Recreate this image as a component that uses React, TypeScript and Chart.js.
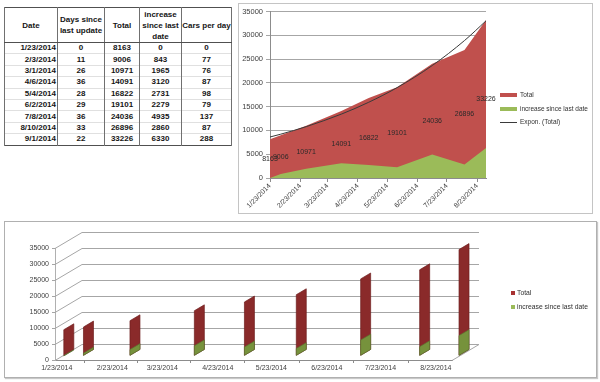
import React, { useEffect, useRef } from 'react';
import { Chart, registerables } from 'chart.js';

Chart.register(...registerables);

// ---------- data ----------
const dates = ['1/23/2014', '2/3/2014', '3/1/2014', '4/6/2014', '5/4/2014', '6/2/2014', '7/8/2014', '8/10/2014', '9/1/2014'];
const daysSinceLast = [0, 11, 26, 36, 28, 29, 36, 33, 22];
const totals = [8163, 9006, 10971, 14091, 16822, 19101, 24036, 26896, 33226];
const increases = [0, 843, 1965, 3120, 2731, 2279, 4935, 2860, 6330];
const carsPerDay = [0, 77, 76, 87, 98, 79, 137, 87, 288];
const tickLabels = ['1/23/2014', '2/23/2014', '3/23/2014', '4/23/2014', '5/23/2014', '6/23/2014', '7/23/2014', '8/23/2014'];
const tickDays = [0, 31, 59, 90, 120, 151, 181, 212];

const seriesTotal = 'Total';
const seriesIncrease = 'increase since last date';
const seriesTrend = 'Expon. (Total)';

// day offsets from first date (cumulative days since last update)
const dayOffsets: number[] = [];
daysSinceLast.reduce((acc, d) => {
  const v = acc + d;
  dayOffsets.push(v);
  return v;
}, 0);

// exponential least-squares fit of Total (Excel "Expon." trendline)
const fit = (() => {
  const n = totals.length;
  const lx = dayOffsets;
  const ly = totals.map((v) => Math.log(v));
  const mx = lx.reduce((a, b) => a + b, 0) / n;
  const my = ly.reduce((a, b) => a + b, 0) / n;
  let sxy = 0;
  let sxx = 0;
  for (let i = 0; i < n; i++) {
    sxy += (lx[i] - mx) * (ly[i] - my);
    sxx += (lx[i] - mx) * (lx[i] - mx);
  }
  const b = sxy / sxx;
  const a = my - b * mx;
  return { A: Math.exp(a), B: b };
})();
const trendValues = dayOffsets.map((x) => fit.A * Math.exp(fit.B * x));

const FONT = '"Liberation Sans", Arial, sans-serif';
const RED = '#C0504D';
const GREEN = '#9BBB59';
const plainNumber = (v: any) => String(v);

// ---------- top area chart ----------
const areaLabels = {
  id: 'areaLabels',
  afterDatasetsDraw(chart: any) {
    const { ctx, scales } = chart;
    ctx.save();
    ctx.font = `7px ${FONT}`;
    ctx.fillStyle = '#2a2a2a';
    ctx.textAlign = 'center';
    ctx.textBaseline = 'middle';
    totals.forEach((v, i) => {
      ctx.fillText(String(v), scales.x.getPixelForValue(dayOffsets[i]), scales.y.getPixelForValue(v / 2));
    });
    ctx.restore();
  },
};

function AreaChart() {
  const ref = useRef<HTMLCanvasElement>(null);
  useEffect(() => {
    if (!ref.current) return;
    const chart = new Chart(ref.current, {
      type: 'line',
      data: {
        datasets: [
          {
            label: seriesTotal,
            data: dayOffsets.map((x, i) => ({ x, y: totals[i] })),
            fill: 'origin',
            backgroundColor: RED,
            borderColor: RED,
            borderWidth: 0,
            pointRadius: 0,
            order: 3,
          },
          {
            label: seriesIncrease,
            data: dayOffsets.map((x, i) => ({ x, y: increases[i] })),
            fill: 'origin',
            backgroundColor: GREEN,
            borderColor: GREEN,
            borderWidth: 0,
            pointRadius: 0,
            order: 2,
          },
          {
            label: seriesTrend,
            data: dayOffsets.map((x, i) => ({ x, y: trendValues[i] })),
            fill: false,
            borderColor: '#3a3a3a',
            borderWidth: 1,
            pointRadius: 0,
            cubicInterpolationMode: 'monotone',
            order: 1,
          },
        ],
      } as any,
      options: {
        animation: false,
        responsive: false,
        events: [],
        layout: { padding: { top: 6, right: 106, left: 0, bottom: 0 } },
        plugins: { legend: { display: false }, tooltip: { enabled: false } },
        scales: {
          x: {
            type: 'linear',
            min: 0,
            max: 221,
            afterBuildTicks: (s: any) => {
              s.ticks = tickDays.map((v) => ({ value: v }));
            },
            afterFit: (s: any) => {
              s.height = 35;
            },
            ticks: {
              autoSkip: false,
              minRotation: 45,
              maxRotation: 45,
              padding: 0,
              color: '#404040',
              font: { family: FONT, size: 7 },
              callback: (_v: any, i: number) => tickLabels[i],
            },
            grid: { drawOnChartArea: false, tickLength: 4, color: '#8c8c8c' },
            border: { color: '#8c8c8c' },
          },
          y: {
            min: 0,
            max: 35000,
            afterFit: (s: any) => {
              s.width = 31;
            },
            ticks: {
              stepSize: 5000,
              padding: 3,
              color: '#404040',
              font: { family: FONT, size: 7.5 },
              callback: plainNumber,
            },
            grid: { color: '#a6a6a6', tickLength: 4 },
            border: { color: '#8c8c8c' },
          },
        },
      } as any,
      plugins: [areaLabels],
    });
    return () => chart.destroy();
  }, []);
  return <canvas ref={ref} width={353} height={209} style={{ display: 'block' }} />;
}

// ---------- bottom pseudo-3D column chart ----------
const DX = 27;
const DY = 16;
const T1 = 0.26;
const T2 = 0.63;

const wall3d = {
  id: 'wall3d',
  beforeDatasetsDraw(chart: any) {
    const { ctx, chartArea: a, scales } = chart;
    const ys = scales.y;
    ctx.save();
    ctx.strokeStyle = '#a6a6a6';
    ctx.lineWidth = 1;
    ys.ticks.forEach((t: any) => {
      const yf = Math.round(ys.getPixelForValue(t.value)) + 0.5;
      ctx.beginPath();
      ctx.moveTo(a.left, yf);
      ctx.lineTo(a.left + DX, yf - DY);
      ctx.lineTo(a.right + DX, yf - DY);
      ctx.stroke();
    });
    const y0 = Math.round(ys.getPixelForValue(0)) + 0.5;
    ctx.beginPath();
    ctx.moveTo(a.right, y0);
    ctx.lineTo(a.right + DX, y0 - DY);
    ctx.stroke();

    const drawSet = (di: number, fill: string, edge: string) => {
      const meta = chart.getDatasetMeta(di);
      meta.data.forEach((el: any) => {
        const xf = el.x;
        const yt = el.y;
        const yb = el.base;
        ctx.beginPath();
        ctx.moveTo(xf + T1 * DX, yb - T1 * DY);
        ctx.lineTo(xf + T2 * DX, yb - T2 * DY);
        ctx.lineTo(xf + T2 * DX, yt - T2 * DY);
        ctx.lineTo(xf + T1 * DX, yt - T1 * DY);
        ctx.closePath();
        ctx.fillStyle = fill;
        ctx.fill();
        ctx.strokeStyle = edge;
        ctx.lineWidth = 0.7;
        ctx.stroke();
      });
    };
    drawSet(0, '#8A2A2A', '#6e1e1e');
    drawSet(1, '#76923C', '#5b7430');
    ctx.restore();
    return false;
  },
};

function ColumnChart() {
  const ref = useRef<HTMLCanvasElement>(null);
  useEffect(() => {
    if (!ref.current) return;
    const chart = new Chart(ref.current, {
      type: 'bar',
      data: {
        datasets: [
          {
            label: seriesTotal,
            data: dayOffsets.map((x, i) => ({ x, y: totals[i] })),
            backgroundColor: '#A83232',
            grouped: false,
          },
          {
            label: seriesIncrease,
            data: dayOffsets.map((x, i) => ({ x, y: increases[i] })),
            backgroundColor: GREEN,
            grouped: false,
          },
        ],
      } as any,
      options: {
        animation: false,
        responsive: false,
        events: [],
        layout: { padding: { top: 26, right: 144, left: 0, bottom: 0 } },
        plugins: { legend: { display: false }, tooltip: { enabled: false } },
        scales: {
          x: {
            type: 'linear',
            offset: false,
            min: -1,
            max: 221,
            afterBuildTicks: (s: any) => {
              s.ticks = tickDays.map((v) => ({ value: v }));
            },
            afterFit: (s: any) => {
              s.height = 17;
            },
            ticks: {
              autoSkip: false,
              maxRotation: 0,
              minRotation: 0,
              padding: 1,
              color: '#404040',
              font: { family: FONT, size: 7 },
              callback: (_v: any, i: number) => tickLabels[i],
            },
            grid: { drawOnChartArea: false, tickLength: 3, color: '#8c8c8c' },
            border: { color: '#8c8c8c' },
          },
          y: {
            min: 0,
            max: 35000,
            afterFit: (s: any) => {
              s.width = 50;
            },
            ticks: {
              stepSize: 5000,
              padding: 3,
              color: '#404040',
              font: { family: FONT, size: 7 },
              callback: plainNumber,
            },
            grid: { drawOnChartArea: false, tickLength: 3, color: '#a6a6a6' },
            border: { color: '#b0b0b0' },
          },
        },
      } as any,
      plugins: [wall3d],
    });
    return () => chart.destroy();
  }, []);
  return <canvas ref={ref} width={591} height={155} style={{ display: 'block' }} />;
}

// ---------- table ----------
const cellBase: React.CSSProperties = {
  padding: 0,
  borderLeft: '1px solid #707070',
  borderRight: '1px solid #707070',
  textAlign: 'center',
  overflow: 'hidden',
  whiteSpace: 'nowrap',
};

function DataTable() {
  const headers = [['Date'], ['Days since', 'last update'], ['Total'], ['increase', 'since last', 'date'], ['Cars per day']];
  const widths = [53, 47, 35, 42, 50];
  return (
    <table
      style={{
        position: 'absolute',
        left: 4,
        top: 7,
        borderCollapse: 'collapse',
        tableLayout: 'fixed',
        width: 228,
        font: `bold 8px ${FONT}`,
        color: '#151515',
        border: '1px solid #505050',
      }}
    >
      <colgroup>
        {widths.map((w, i) => (
          <col key={i} style={{ width: w }} />
        ))}
      </colgroup>
      <thead>
        <tr style={{ height: 35 }}>
          {headers.map((h, i) => (
            <th key={i} style={{ ...cellBase, lineHeight: '11px', borderBottom: '1px solid #505050', fontWeight: 'bold' }}>
              {h.map((line, j) => (
                <div key={j}>{line}</div>
              ))}
            </th>
          ))}
        </tr>
      </thead>
      <tbody>
        {dates.map((d, i) => (
          <tr key={d} style={{ height: 11.4 }}>
            <td style={{ ...cellBase, textAlign: 'right', paddingRight: 1, borderTop: '1px solid #e0e0e0', lineHeight: '10px' }}>{d}</td>
            <td style={{ ...cellBase, borderTop: '1px solid #e0e0e0', lineHeight: '10px' }}>{daysSinceLast[i]}</td>
            <td style={{ ...cellBase, borderTop: '1px solid #e0e0e0', lineHeight: '10px' }}>{totals[i]}</td>
            <td style={{ ...cellBase, borderTop: '1px solid #e0e0e0', lineHeight: '10px' }}>{increases[i]}</td>
            <td style={{ ...cellBase, borderTop: '1px solid #e0e0e0', lineHeight: '10px' }}>{carsPerDay[i]}</td>
          </tr>
        ))}
      </tbody>
    </table>
  );
}

const legendText: React.CSSProperties = {
  position: 'absolute',
  font: `6.5px ${FONT}`,
  color: '#303030',
  whiteSpace: 'nowrap',
  lineHeight: '8px',
};

export default function App() {
  return (
    <div style={{ position: 'fixed', left: 0, top: 0, width: 600, height: 382, background: '#fff', overflow: 'hidden' }}>
      <DataTable />

      {/* top chart box */}
      <div style={{ position: 'absolute', left: 238, top: 3, width: 353, height: 209, border: '1px solid #c4c4c4' }}>
        <AreaChart />
      </div>
      {/* top legend */}
      <div style={{ position: 'absolute', left: 500, top: 93, width: 17, height: 4, background: RED }} />
      <div style={{ ...legendText, left: 520, top: 91 }}>{seriesTotal}</div>
      <div style={{ position: 'absolute', left: 500, top: 107, width: 17, height: 4, background: GREEN }} />
      <div style={{ ...legendText, left: 520, top: 105 }}>{seriesIncrease}</div>
      <div style={{ position: 'absolute', left: 500, top: 122, width: 17, height: 1, background: '#3a3a3a' }} />
      <div style={{ ...legendText, left: 520, top: 118 }}>{seriesTrend}</div>

      {/* bottom chart box */}
      <div
        style={{
          position: 'absolute',
          left: 4,
          top: 221,
          width: 591,
          height: 155,
          border: '1px solid #b0b0b0',
          boxShadow: '1px 1px 1px #c8c8c8',
        }}
      >
        <ColumnChart />
      </div>
      {/* bottom legend */}
      <div style={{ position: 'absolute', left: 511, top: 291, width: 4, height: 4, background: '#A83232' }} />
      <div style={{ ...legendText, font: `6.8px ${FONT}`, left: 517, top: 289 }}>{seriesTotal}</div>
      <div style={{ position: 'absolute', left: 511, top: 305, width: 4, height: 4, background: GREEN }} />
      <div style={{ ...legendText, font: `6.8px ${FONT}`, left: 517, top: 303 }}>{seriesIncrease}</div>
    </div>
  );
}
